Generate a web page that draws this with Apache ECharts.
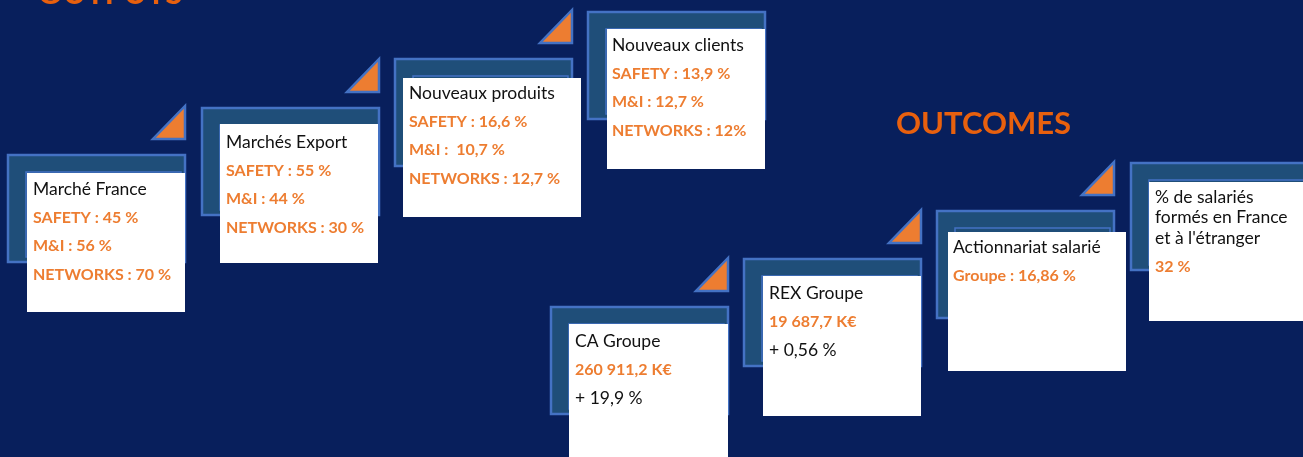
<!DOCTYPE html>
<html><head><meta charset="utf-8">
<script src="https://cdn.jsdelivr.net/npm/echarts@6/dist/echarts.min.js"></script>
<style>html,body{margin:0;padding:0;background:#081F5C;}#c{width:1303px;height:457px;}</style>
</head><body><div id="c"></div>
<script>
// ---- data ----
const sectionTitles = ['OUTPUTS', 'OUTCOMES'];
const outputTitles = ['Marché France', 'Marchés Export', 'Nouveaux produits', 'Nouveaux clients'];
const outputSafety = ['45 %', '55 %', '16,6 %', '13,9 %'];
const outputMI = ['56 %', '44 %', ' 10,7 %', '12,7 %'];
const outputNetworks = ['70 %', '30 %', '12,7 %', '12%'];
const outcomeTitles = ['CA Groupe', 'REX Groupe', 'Actionnariat salarié', "% de salariés\nformés en France\net à l'étranger"];
const outcomeValues = ['260 911,2 K€', '19 687,7 K€', 'Groupe : 16,86 %', '32 %'];
const outcomeChanges = ['+ 19,9 %', '+ 0,56 %', '', ''];

// ---- layout (pixels) ----
const framePos = [[8,155],[202,108],[395,59],[588,12],[551,307],[744,259],[937,211],[1131,163]];
const whiteBox = [[27,173,158,139],[220,124,158,139],[403,78,178,139],[607,29,158,140],
                  [569,324,159,140],[763,276,158,140],[948,232,178,139],[1149,182,160,139]];
const hasTri = [true,true,true,false,true,true,true,false];
const textX = [33,226,409,612,575,769,953,1155];
const textY0 = [189,142,93,45,341,293,247,197];
const FW = 177, FH = 107, FT = 18;

const ORANGE = '#ED7D31', BLUE = '#4472C4', SLATE = '#1F4E79';
const FONT = 'Lato, "Open Sans", sans-serif';

function buildCards() {
  const els = [];
  const lines = [];
  for (let i = 0; i < 4; i++) {
    lines.push([
      {t: outputTitles[i], o: false},
      {t: 'SAFETY : ' + outputSafety[i], o: true},
      {t: 'M&I : ' + outputMI[i], o: true},
      {t: 'NETWORKS : ' + outputNetworks[i], o: true}
    ]);
  }
  for (let i = 0; i < 4; i++) {
    const arr = [];
    outcomeTitles[i].split('\n').forEach(t => arr.push({t, o: false, tight: true}));
    arr.push({t: outcomeValues[i], o: true});
    if (outcomeChanges[i]) arr.push({t: outcomeChanges[i], o: false});
    lines.push(arr);
  }
  for (let k = 0; k < 8; k++) {
    const [fx, fy] = framePos[k];
    if (hasTri[k]) {
      const rx = fx + FW, by = fy - 16;
      els.push({type: 'polygon', shape: {points: [[rx, by - 33], [rx, by], [rx - 32, by]]},
        style: {fill: ORANGE, stroke: BLUE, lineWidth: 2.5}});
    }
    els.push({type: 'rect', shape: {x: fx, y: fy, width: FW, height: FH},
      style: {fill: SLATE, stroke: BLUE, lineWidth: 2.5}});
    els.push({type: 'rect', shape: {x: fx + FT, y: fy + FT - 1, width: FW - FT - 4, height: FH - FT - 4},
      style: {fill: 'none', stroke: BLUE, lineWidth: 1.5}});
    const [wx, wy, ww, wh] = whiteBox[k];
    els.push({type: 'rect', shape: {x: wx, y: wy, width: ww, height: wh}, style: {fill: '#FFFFFF'}});
    let y = textY0[k];
    const L = lines[k];
    L.forEach((ln, j) => {
      els.push({type: 'text', x: textX[k], y: y,
        style: {text: ln.t, fill: ln.o ? ORANGE : '#111111', font: (ln.o ? 'bold 16px ' : '17.5px ') + FONT,
                textAlign: 'left', textVerticalAlign: 'middle', verticalAlign: 'middle'}});
      const next = L[j + 1];
      y += (ln.tight && next && next.tight) ? 20.5 : 28.5;
    });
  }
  els.push({type: 'text', x: 38, y: -6, style: {text: sectionTitles[0], fill: '#E8600E',
    font: 'bold 31px ' + FONT, textAlign: 'left', verticalAlign: 'middle', textVerticalAlign: 'middle'}});
  els.push({type: 'text', x: 896, y: 124, style: {text: sectionTitles[1], fill: '#E8600E',
    font: 'bold 31px ' + FONT, textAlign: 'left', verticalAlign: 'middle', textVerticalAlign: 'middle'}});
  return els;
}

const chart = echarts.init(document.getElementById('c'), null, {renderer: 'canvas'});
chart.setOption({
  backgroundColor: '#081F5C',
  animation: false,
  graphic: {elements: buildCards()}
});
</script></body></html>
